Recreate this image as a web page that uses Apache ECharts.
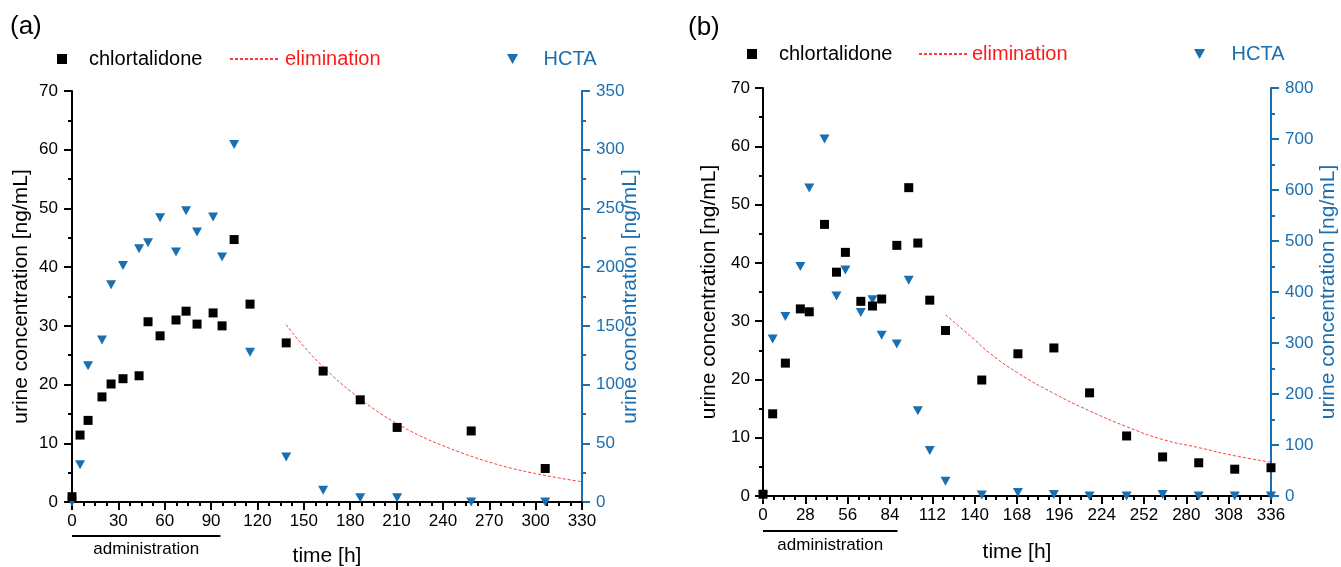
<!DOCTYPE html>
<html>
<head>
<meta charset="utf-8">
<script src="https://cdn.jsdelivr.net/npm/echarts@6/dist/echarts.min.js"></script>
<style>
  html, body { margin: 0; background: #fff; }
  #chart { width: 1341px; height: 567px; }
</style>
</head>
<body>
<div id="chart"></div>
<script>
// panel (a): sampling times [h] and concentrations
const timeA = [0, 5.2, 10.4, 19.4, 25.3, 33.0, 43.4, 49.2, 57.0, 67.3, 73.8, 80.9, 91.3, 97.1, 104.9, 115.2, 138.6, 162.5, 186.5, 210.4, 258.3, 306.2];
const chlorA = [0.9, 11.4, 13.9, 17.9, 20.1, 21.0, 21.5, 30.7, 28.3, 31.0, 32.5, 30.3, 32.2, 30.0, 44.7, 33.7, 27.1, 22.3, 17.4, 12.7, 12.1, 5.7];
const hctaA = [0, 31.8, 116, 138, 185, 201.5, 215.7, 220.8, 242, 212.8, 248, 230, 242.7, 208.6, 304.5, 127.5, 38.4, 10, 3.7, 3.7, 0, 0];
const elimTimeA = [138.6, 150, 165, 180, 195, 210, 225, 240, 255, 270, 285, 300, 315, 330];
const elimA = [30.2, 26.5, 22.4, 18.9, 15.9, 13.4, 11.3, 9.6, 8.1, 6.8, 5.7, 4.85, 4.1, 3.45];

// panel (b)
const timeB = [0, 6.4, 14.8, 24.7, 30.6, 40.7, 48.6, 54.5, 64.7, 72.4, 78.5, 88.5, 96.4, 102.4, 110.3, 120.7, 144.7, 168.6, 192.4, 216.0, 240.5, 264.3, 288.2, 312.0, 336];
const chlorB = [0.3, 14.1, 22.8, 32.1, 31.6, 46.6, 38.4, 41.8, 33.4, 32.6, 33.8, 43.0, 52.9, 43.4, 33.6, 28.4, 19.9, 24.4, 25.4, 17.7, 10.3, 6.7, 5.7, 4.6, 4.85];
const hctaB = [0, 308, 352, 450, 604, 700, 392, 443, 360, 385, 315, 298, 423, 167, 89, 29, 2, 7, 3, 0, 0, 3, 0, 0, 0];
const elimTimeB = [120.7, 140, 150, 168.6, 192.4, 216, 240.5, 264.3, 288.2, 312, 336];
const elimB = [31.1, 26.8, 24.5, 21.1, 17.6, 14.6, 11.9, 9.7, 8.3, 6.9, 5.8];

// axis ticks
const xTicksA = { max: 330, step: 30 };
const xTicksB = { max: 336, step: 28 };
const leftTicks = { max: 70, step: 10 };
const rightTicksA = { max: 350, step: 50 };
const rightTicksB = { max: 800, step: 100 };

// administration period [h]
const adminA = [0, 96];
const adminB = [0, 89];

const FONT = 'Liberation Sans, Arial, sans-serif';
const BLUE = '#1a6fb1';
const RED = '#ff1a1a';
const TRI = 'path://M0,0L10,0L5,9Z';

const zip = (xs, ys) => xs.map((x, i) => [x, ys[i]]);

function xAxis(gridIndex, t, gap) {
  return {
    type: 'value', gridIndex, min: 0, max: t.max, interval: t.step,
    name: 'time [h]', nameLocation: 'middle', nameGap: gap,
    nameTextStyle: { fontFamily: FONT, fontSize: 21, color: '#000' },
    axisLine: { lineStyle: { color: '#000', width: 2 } },
    axisTick: { length: 8, lineStyle: { width: 2 } },
    minorTick: { show: true, splitNumber: 4, length: 4, lineStyle: { color: '#000', width: 2 } },
    axisLabel: { fontFamily: FONT, fontSize: 17, color: '#000', margin: 11 },
    splitLine: { show: false }
  };
}

function yAxis(gridIndex, t, pos, color, gap, margin) {
  return {
    type: 'value', gridIndex, position: pos, min: 0, max: t.max, interval: t.step,
    name: 'urine concentration [ng/mL]', nameLocation: 'middle', nameGap: gap, nameRotate: 90,
    nameMoveOverlap: false,
    nameTextStyle: { fontFamily: FONT, fontSize: 21, color },
    axisLine: { show: true, onZero: false, lineStyle: { color, width: 2 } },
    axisTick: { show: true, length: 8, lineStyle: { width: 2 } },
    minorTick: { show: true, splitNumber: 2, length: 4, lineStyle: { color, width: 2 } },
    axisLabel: { fontFamily: FONT, fontSize: 17, color, margin },
    splitLine: { show: false }
  };
}

function legend(name, color, left, top, w, h, pad, extra) {
  return {
    data: [Object.assign({ name, textStyle: { color } }, extra || {})],
    left, top, padding: 0, itemWidth: w, itemHeight: h, selectedMode: false,
    textStyle: { fontFamily: FONT, fontSize: 20, color, padding: [0, 0, 0, pad] }
  };
}

function panelSeries(xi, yl, yr, time, chlor, hcta, et, ev) {
  return [
    { name: 'HCTA', type: 'scatter', xAxisIndex: xi, yAxisIndex: yr, data: zip(time, hcta),
      symbol: TRI, symbolSize: [10, 9], itemStyle: { color: BLUE, opacity: 1 }, clip: false, z: 2 },
    { name: 'elimination', type: 'line', xAxisIndex: xi, yAxisIndex: yl, data: zip(et, ev),
      showSymbol: false, symbol: 'none', smooth: true,
      lineStyle: { color: RED, width: 1, type: [3, 2], opacity: 0.85 }, itemStyle: { color: RED }, z: 3 },
    { name: 'chlortalidone', type: 'scatter', xAxisIndex: xi, yAxisIndex: yl, data: zip(time, chlor),
      symbol: 'rect', symbolSize: 9, itemStyle: { color: '#000', opacity: 1 }, clip: false, z: 4 }
  ];
}

const chart = echarts.init(document.getElementById('chart'), null, { renderer: 'canvas' });

const hideDot = { itemStyle: { opacity: 0 } };

chart.setOption({
  animation: false,
  backgroundColor: '#fff',
  grid: [
    { left: 72, top: 91, width: 510, height: 411, outerBoundsMode: 'none', containLabel: false },
    { left: 763, top: 88, width: 508, height: 408, outerBoundsMode: 'none', containLabel: false }
  ],
  xAxis: [xAxis(0, xTicksA, 44), xAxis(1, xTicksB, 46)],
  yAxis: [
    yAxis(0, leftTicks, 'left', '#000', 40, 14),
    yAxis(0, rightTicksA, 'right', BLUE, 38, 14),
    yAxis(1, leftTicks, 'left', '#000', 43, 13),
    yAxis(1, rightTicksB, 'right', BLUE, 47, 14)
  ],
  legend: [
    legend('chlortalidone', '#000', 57, 49, 10, 10, 17),
    legend('elimination', RED, 229, 49, 50, 10, 0, hideDot),
    legend('HCTA', BLUE, 507, 49, 12, 10, 20),
    legend('chlortalidone', '#000', 747, 44, 10, 10, 17),
    legend('elimination', RED, 918, 44, 48, 10, 0, hideDot),
    legend('HCTA', BLUE, 1194, 44, 12, 10, 21)
  ],
  series: [
    ...panelSeries(0, 0, 1, timeA, chlorA, hctaA, elimTimeA, elimA),
    ...panelSeries(1, 2, 3, timeB, chlorB, hctaB, elimTimeB, elimB)
  ]
});

// panel letters and administration bars under the time axes
function adminGraphics(xi, range, yLine, yText) {
  const x0 = chart.convertToPixel({ xAxisIndex: xi }, range[0]);
  const x1 = chart.convertToPixel({ xAxisIndex: xi }, range[1]);
  return [
    { type: 'line', shape: { x1: x0, y1: yLine, x2: x1, y2: yLine }, style: { stroke: '#000', lineWidth: 2 } },
    { type: 'text', x: (x0 + x1) / 2, y: yText,
      style: { text: 'administration', fontFamily: FONT, fontSize: 17, fill: '#000', align: 'center', verticalAlign: 'middle' } }
  ];
}

chart.setOption({
  graphic: [
    { type: 'text', x: 10, y: 27, style: { text: '(a)', fontFamily: FONT, fontSize: 26, fill: '#000', verticalAlign: 'middle' } },
    { type: 'text', x: 688, y: 28, style: { text: '(b)', fontFamily: FONT, fontSize: 26, fill: '#000', verticalAlign: 'middle' } },
    ...adminGraphics(0, adminA, 536, 549),
    ...adminGraphics(1, adminB, 531, 545)
  ]
});
</script>
</body>
</html>
